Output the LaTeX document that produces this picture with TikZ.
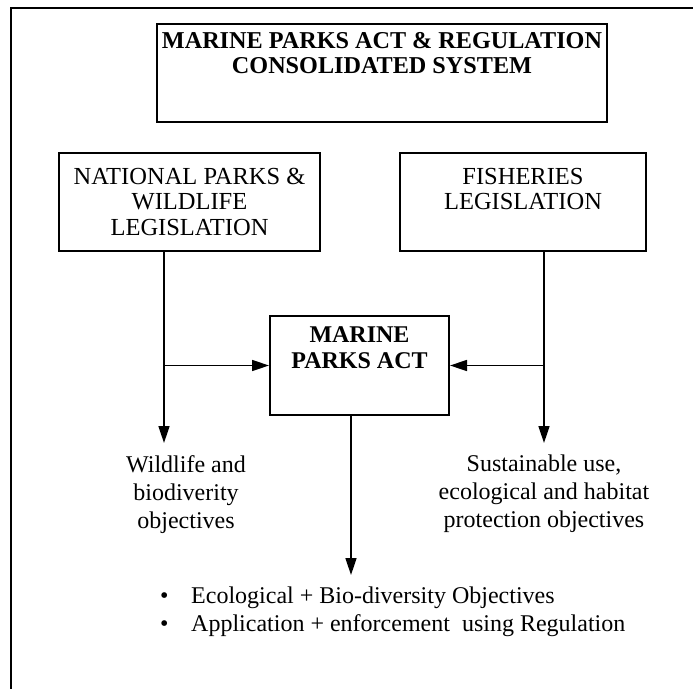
\documentclass[tikz,border=0pt]{standalone}
\usepackage{fontspec}
\setmainfont{Liberation Serif}
\usetikzlibrary{arrows.meta}

\begin{document}
\begin{tikzpicture}[x=1pt,y=-1pt,
    box/.style={draw, line width=2pt, inner sep=0pt, anchor=north west},
    conn/.style={line width=1.6pt, -{Triangle[length=17pt,width=11pt]}},
    lbl/.style={align=center, inner sep=0pt, anchor=north, font=\fontsize{24}{28}\selectfont}]

    \useasboundingbox (0,0) rectangle (693,688);
    \clip (0,0) rectangle (693,688);

    % outer frame
    \draw[line width=2.5pt] (11,700) -- (11,8) -- (700,8);

    % boxes
    \node[box] (mpacs) at (156,23) {\parbox[c][98pt][t]{450pt}{\centering\fontsize{24.2}{25}\selectfont\bfseries
        \rule{0pt}{24pt}MARINE PARKS ACT \& REGULATION\\CONSOLIDATED SYSTEM}};

    \node[box] (npw) at (58,152) {\parbox[c][98pt][t]{261pt}{\centering\fontsize{24.5}{25.5}\selectfont
        \rule{0pt}{31pt}NATIONAL PARKS \&\\WILDLIFE\\LEGISLATION}};
    \node[box] (fish) at (399,152) {\parbox[c][98pt][t]{246pt}{\centering\fontsize{24.5}{25.5}\selectfont
        \rule{0pt}{31pt}FISHERIES\\LEGISLATION}};

    \node[box] (mpa) at (269,315) {\parbox[c][99pt][t]{179pt}{\centering\fontsize{24}{26}\selectfont\bfseries
        \rule{0pt}{26pt}MARINE\\PARKS ACT}};

    % objectives
    \node[lbl] (wbo) at (186,455) {Wildlife and\\biodiverity\\objectives};
    \node[lbl] (sue) at (544,455) {Sustainable use,\\ecological and habitat\\protection objectives};

    \node[inner sep=0pt, anchor=north west, align=left, font=\fontsize{24}{28}\selectfont] (goals) at (160,587)
        {\makebox[31pt][l]{\textbullet}Ecological + Bio-diversity Objectives\\
         \makebox[31pt][l]{\textbullet}Application + enforcement\ \ using Regulation};

    % arrow ends
    \coordinate (wtip) at (164,443);
    \coordinate (stip) at (544,443);
    \coordinate (gtip) at (351,575);

    \draw[conn] (npw.south -| wtip) -- (wtip);
    \draw[conn] (fish.south -| stip) -- (stip);
    \draw[conn] (wtip |- mpa.west) -- (mpa.west);
    \draw[conn] (stip |- mpa.east) -- (mpa.east);
    \draw[conn] (mpa.south -| gtip) -- (gtip);

\end{tikzpicture}
\end{document}
